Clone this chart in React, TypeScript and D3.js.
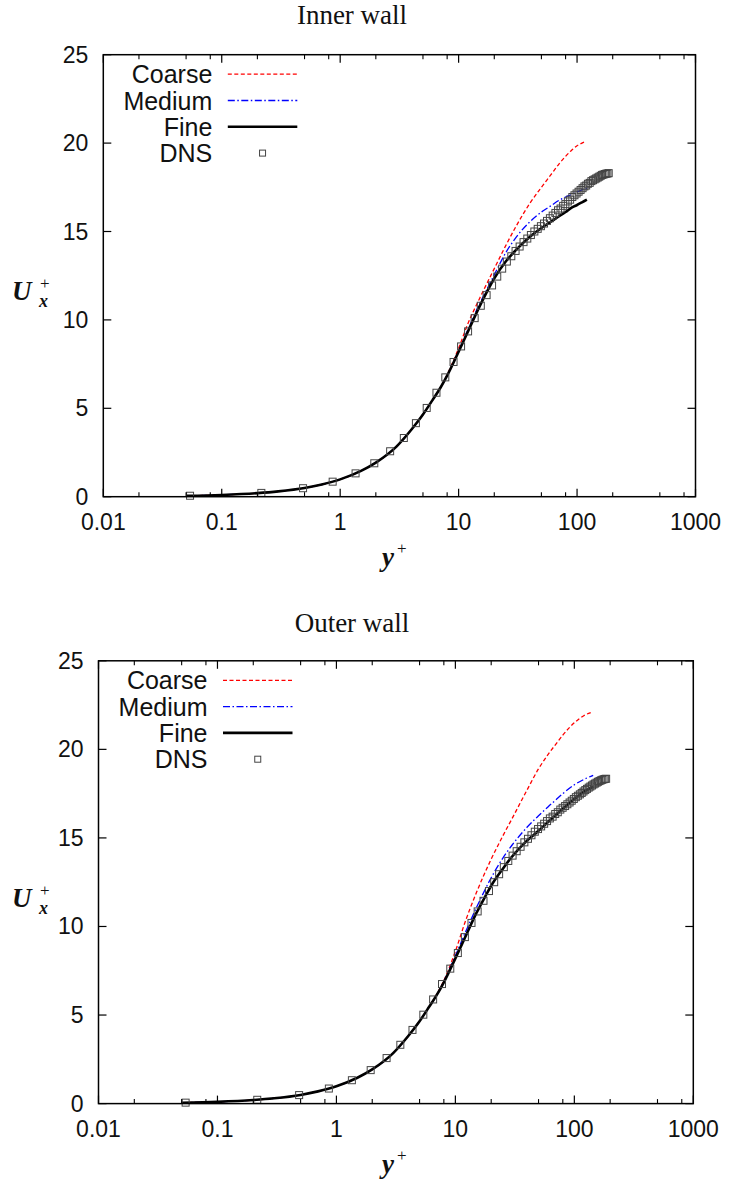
import React from 'react';
import * as d3 from 'd3';

// ---------- ticks / labels ----------
const xTickValues = [0.01, 0.1, 1, 10, 100, 1000];
const xTickLabels = ['0.01', '0.1', '1', '10', '100', '1000'];
const xMinorTicks = [0.02, 0.05, 0.08, 0.2, 0.5, 0.8, 2, 5, 8, 20, 50, 80, 200, 500, 800];
const yTickValues = [0, 5, 10, 15, 20, 25];
const yTickLabels = ['0', '5', '10', '15', '20', '25'];
const legendLabels = ['Coarse', 'Medium', 'Fine', 'DNS'];
const panelTitles = ['Inner wall', 'Outer wall'];

// ---------- DNS y+ locations (read from the squares) ----------
const dnsYp = [0.054, 0.216, 0.486, 0.864, 1.349, 1.941, 2.641, 3.446, 4.359, 5.377,
  6.5, 7.72, 9.06, 10.49, 12.02, 13.66, 15.39, 17.23, 19.16, 21.19,
  23.32, 25.54, 27.85, 30.26, 32.74, 35.33, 38.01, 40.76, 43.6, 46.52,
  49.52, 52.6, 55.75, 58.98, 62.27, 65.65, 69.08, 72.57, 76.26, 79.7,
  83.62, 87.38, 91.22, 95.09, 99.03, 103.0, 107.1, 111.3, 115.4, 119.4,
  123.5, 127.8, 132.1, 136.3, 140.7, 145.0, 149.4, 153.9, 158.3, 162.7,
  167.1, 171.6, 176.1, 180.5, 185.0];

// ---------- Inner wall ----------
const coarseInnerYp = [0.05, 0.1, 0.2, 0.3, 0.5, 0.7, 1, 1.5, 2, 3, 4, 5, 6, 7, 8, 10, 12, 15, 20, 25, 30, 40, 50, 60, 70, 80, 90, 100, 110, 118];
const coarseInnerU = [0.05, 0.1, 0.2, 0.3, 0.49, 0.69, 0.98, 1.46, 1.93, 2.85, 3.8, 4.65, 5.45, 6.15, 6.9, 8.4, 9.8, 11.2, 12.9, 14.2, 15.2, 16.6, 17.5, 18.2, 18.8, 19.25, 19.6, 19.85, 20.0, 20.1];
const mediumInnerYp = [0.05, 0.1, 0.2, 0.3, 0.5, 0.7, 1, 1.5, 2, 3, 4, 5, 6, 7, 8, 10, 12, 15, 18, 20, 25, 30, 40, 50, 60, 70, 80, 90, 100, 110, 121];
const mediumInnerU = [0.05, 0.1, 0.2, 0.3, 0.49, 0.69, 0.98, 1.46, 1.93, 2.85, 3.8, 4.65, 5.45, 6.15, 6.85, 8.25, 9.45, 10.9, 11.95, 12.55, 13.8, 14.6, 15.55, 16.1, 16.45, 16.75, 16.95, 17.1, 17.25, 17.35, 17.45];
const fineInnerYp = [0.05, 0.1, 0.2, 0.3, 0.5, 0.7, 1, 1.5, 2, 3, 4, 5, 6, 7, 8, 10, 12, 15, 18, 20, 25, 30, 40, 50, 60, 70, 80, 90, 100, 110, 121];
const fineInnerU = [0.05, 0.1, 0.2, 0.3, 0.49, 0.69, 0.98, 1.46, 1.93, 2.85, 3.8, 4.65, 5.45, 6.15, 6.85, 8.2, 9.35, 10.75, 11.8, 12.35, 13.3, 13.9, 14.7, 15.2, 15.55, 15.85, 16.1, 16.35, 16.5, 16.65, 16.8];
const dnsInnerU = [0.054, 0.215, 0.48, 0.85, 1.32, 1.89, 2.57, 3.32, 4.16, 5.02,
  5.88, 6.75, 7.62, 8.5, 9.35, 10.1, 10.8, 11.4, 11.95, 12.45,
  12.9, 13.3, 13.6, 13.9, 14.15, 14.4, 14.6, 14.8, 15.0, 15.15,
  15.3, 15.45, 15.6, 15.75, 15.9, 16.05, 16.2, 16.3, 16.45, 16.55,
  16.7, 16.8, 16.95, 17.05, 17.15, 17.25, 17.35, 17.45, 17.55, 17.6,
  17.7, 17.75, 17.85, 17.9, 17.95, 18.0, 18.05, 18.1, 18.15, 18.2,
  18.22, 18.25, 18.27, 18.28, 18.3];

// ---------- Outer wall ----------
const coarseOuterYp = [0.05, 0.1, 0.2, 0.3, 0.5, 0.7, 1, 1.5, 2, 3, 4, 5, 6, 7, 8, 10, 12, 15, 20, 25, 30, 40, 50, 60, 70, 80, 90, 100, 120, 140];
const coarseOuterU = [0.05, 0.1, 0.2, 0.3, 0.49, 0.69, 0.98, 1.46, 1.93, 2.85, 3.8, 4.65, 5.45, 6.2, 6.95, 8.6, 10.2, 11.9, 13.8, 15.1, 16.1, 17.7, 18.9, 19.7, 20.3, 20.8, 21.2, 21.5, 21.9, 22.1];
const mediumOuterYp = [0.05, 0.1, 0.2, 0.3, 0.5, 0.7, 1, 1.5, 2, 3, 4, 5, 6, 7, 8, 10, 12, 15, 20, 25, 30, 40, 50, 60, 70, 80, 100, 120, 144];
const mediumOuterU = [0.05, 0.1, 0.2, 0.3, 0.49, 0.69, 0.98, 1.46, 1.93, 2.85, 3.8, 4.65, 5.45, 6.15, 6.9, 8.35, 9.6, 11.05, 12.75, 13.85, 14.6, 15.6, 16.25, 16.75, 17.15, 17.5, 18.0, 18.3, 18.53];
const fineOuterYp = [0.05, 0.1, 0.2, 0.3, 0.5, 0.7, 1, 1.5, 2, 3, 4, 5, 6, 7, 8, 10, 12, 15, 18, 20, 25, 30, 40, 50, 60, 70, 80, 90, 100, 120, 144];
const fineOuterU = [0.05, 0.1, 0.2, 0.3, 0.49, 0.69, 0.98, 1.46, 1.93, 2.85, 3.8, 4.65, 5.45, 6.15, 6.85, 8.2, 9.35, 10.75, 11.75, 12.3, 13.25, 13.95, 14.85, 15.4, 15.9, 16.3, 16.65, 16.95, 17.2, 17.6, 17.9];
const dnsOuterU = [0.054, 0.215, 0.48, 0.85, 1.32, 1.89, 2.57, 3.32, 4.16, 5.02,
  5.88, 6.75, 7.62, 8.5, 9.4, 10.2, 10.85, 11.45, 12.0, 12.5,
  12.95, 13.35, 13.7, 14.0, 14.25, 14.5, 14.75, 14.95, 15.15, 15.35,
  15.5, 15.65, 15.8, 15.95, 16.1, 16.2, 16.35, 16.45, 16.6, 16.7,
  16.8, 16.9, 17.0, 17.1, 17.2, 17.3, 17.38, 17.46, 17.54, 17.62,
  17.7, 17.77, 17.84, 17.9, 17.96, 18.02, 18.07, 18.12, 18.17, 18.21,
  18.25, 18.28, 18.31, 18.33, 18.34];

const SANS = '"Liberation Sans", Arial, Helvetica, sans-serif';
const SERIF = '"Liberation Serif", "Times New Roman", serif';

const styles = [
  { stroke: '#ff0000', width: 1.3, dash: '4 2.5' },
  { stroke: '#0000ff', width: 1.3, dash: '7 2.5 1.5 2.5' },
  { stroke: '#000000', width: 2.6, dash: undefined as string | undefined },
];

type Geo = { L: number; R: number; T: number; B: number; titleY: number };

function Panel({ geo, title, lines, dnsU }: { geo: Geo; title: string; lines: [number[], number[]][]; dnsU: number[] }) {
  const x = d3.scaleLog().domain([0.01, 1000]).range([geo.L, geo.R]);
  const y = d3.scaleLinear().domain([0, 25]).range([geo.B, geo.T]);
  const lineGen = d3.line<[number, number]>().x(d => x(d[0])).y(d => y(d[1])).curve(d3.curveMonotoneX);
  const major = 8, minor = 4.5;
  const legX0 = geo.L + 124.5, legX1 = geo.L + 194, legTextX = geo.L + 109;
  const legRow = (i: number) => geo.T + 19.5 + i * 26.3;
  const titleX = 352;
  const yl = y(11.5);
  return (
    <g>
      <text x={titleX} y={geo.titleY} textAnchor="middle" fontFamily={SERIF} fontSize={27} fill="#111">{title}</text>
      {/* data */}
      {lines.map((s, i) => (
        <path key={i} d={lineGen(s[0].map((v, k) => [v, s[1][k]] as [number, number])) || ''}
          fill="none" stroke={styles[i].stroke} strokeWidth={styles[i].width} strokeDasharray={styles[i].dash} />
      ))}
      {dnsYp.map((v, k) => (
        <rect key={k} x={x(v) - 3.5} y={y(dnsU[k]) - 3.5} width={7} height={7} fill="none" stroke="#444" strokeWidth={1} />
      ))}
      {/* frame */}
      <rect x={geo.L} y={geo.T} width={geo.R - geo.L} height={geo.B - geo.T} fill="none" stroke="#000" strokeWidth={1.5} />
      {/* x ticks */}
      {xTickValues.map((v, i) => (
        <g key={'xt' + i}>
          <line x1={x(v)} x2={x(v)} y1={geo.B} y2={geo.B - major} stroke="#000" strokeWidth={1.2} />
          <line x1={x(v)} x2={x(v)} y1={geo.T} y2={geo.T + major} stroke="#000" strokeWidth={1.2} />
          <text x={x(v)} y={geo.B + 33} textAnchor="middle" fontFamily={SANS} fontSize={23} fill="#111">{xTickLabels[i]}</text>
        </g>
      ))}
      {xMinorTicks.map((v, i) => (
        <g key={'xm' + i}>
          <line x1={x(v)} x2={x(v)} y1={geo.B} y2={geo.B - minor} stroke="#000" strokeWidth={1.1} />
          <line x1={x(v)} x2={x(v)} y1={geo.T} y2={geo.T + minor} stroke="#000" strokeWidth={1.1} />
        </g>
      ))}
      {/* y ticks */}
      {yTickValues.map((v, i) => (
        <g key={'yt' + i}>
          <line x1={geo.L} x2={geo.L + major} y1={y(v)} y2={y(v)} stroke="#000" strokeWidth={1.2} />
          <line x1={geo.R} x2={geo.R - major} y1={y(v)} y2={y(v)} stroke="#000" strokeWidth={1.2} />
          <text x={geo.L - 15} y={y(v) + 8} textAnchor="end" fontFamily={SANS} fontSize={23} fill="#111">{yTickLabels[i]}</text>
        </g>
      ))}
      {/* axis titles */}
      <text x={12} y={yl + 7} fontFamily={SERIF} fontWeight="bold" fontStyle="italic" fontSize={27} fill="#111">U</text>
      <text x={40} y={yl - 4} fontFamily={SERIF} fontSize={17} fill="#111">+</text>
      <text x={39} y={yl + 14} fontFamily={SERIF} fontWeight="bold" fontStyle="italic" fontSize={18} fill="#111">x</text>
      <text x={382} y={geo.B + 69} fontFamily={SERIF} fontWeight="bold" fontStyle="italic" fontSize={27} fill="#111">y</text>
      <text x={397} y={geo.B + 57} fontFamily={SERIF} fontSize={17} fill="#111">+</text>
      {/* legend */}
      {legendLabels.map((lab, i) => (
        <text key={'lg' + i} x={legTextX} y={legRow(i) + 9} textAnchor="end" fontFamily={SANS} fontSize={25} fill="#111">{lab}</text>
      ))}
      {styles.map((s, i) => (
        <line key={'ll' + i} x1={legX0} x2={legX1} y1={legRow(i)} y2={legRow(i)} stroke={s.stroke} strokeWidth={s.width} strokeDasharray={s.dash} />
      ))}
      <rect x={(legX0 + legX1) / 2 - 3} y={legRow(3) - 3} width={6} height={6} fill="none" stroke="#444" strokeWidth={1} />
    </g>
  );
}

export default function App() {
  const topGeo: Geo = { L: 103.3, R: 695.5, T: 54.7, B: 496.7, titleY: 24 };
  const botGeo: Geo = { L: 98.5, R: 693.3, T: 660.8, B: 1103.6, titleY: 632 };
  return (
    <svg width={731} height={1189} viewBox="0 0 731 1189" style={{ position: 'absolute', left: 0, top: 0, background: '#fff' }}>
      <rect x={0} y={0} width={731} height={1189} fill="#fff" />
      <Panel geo={topGeo} title={panelTitles[0]}
        lines={[[coarseInnerYp, coarseInnerU], [mediumInnerYp, mediumInnerU], [fineInnerYp, fineInnerU]]}
        dnsU={dnsInnerU} />
      <Panel geo={botGeo} title={panelTitles[1]}
        lines={[[coarseOuterYp, coarseOuterU], [mediumOuterYp, mediumOuterU], [fineOuterYp, fineOuterU]]}
        dnsU={dnsOuterU} />
    </svg>
  );
}
